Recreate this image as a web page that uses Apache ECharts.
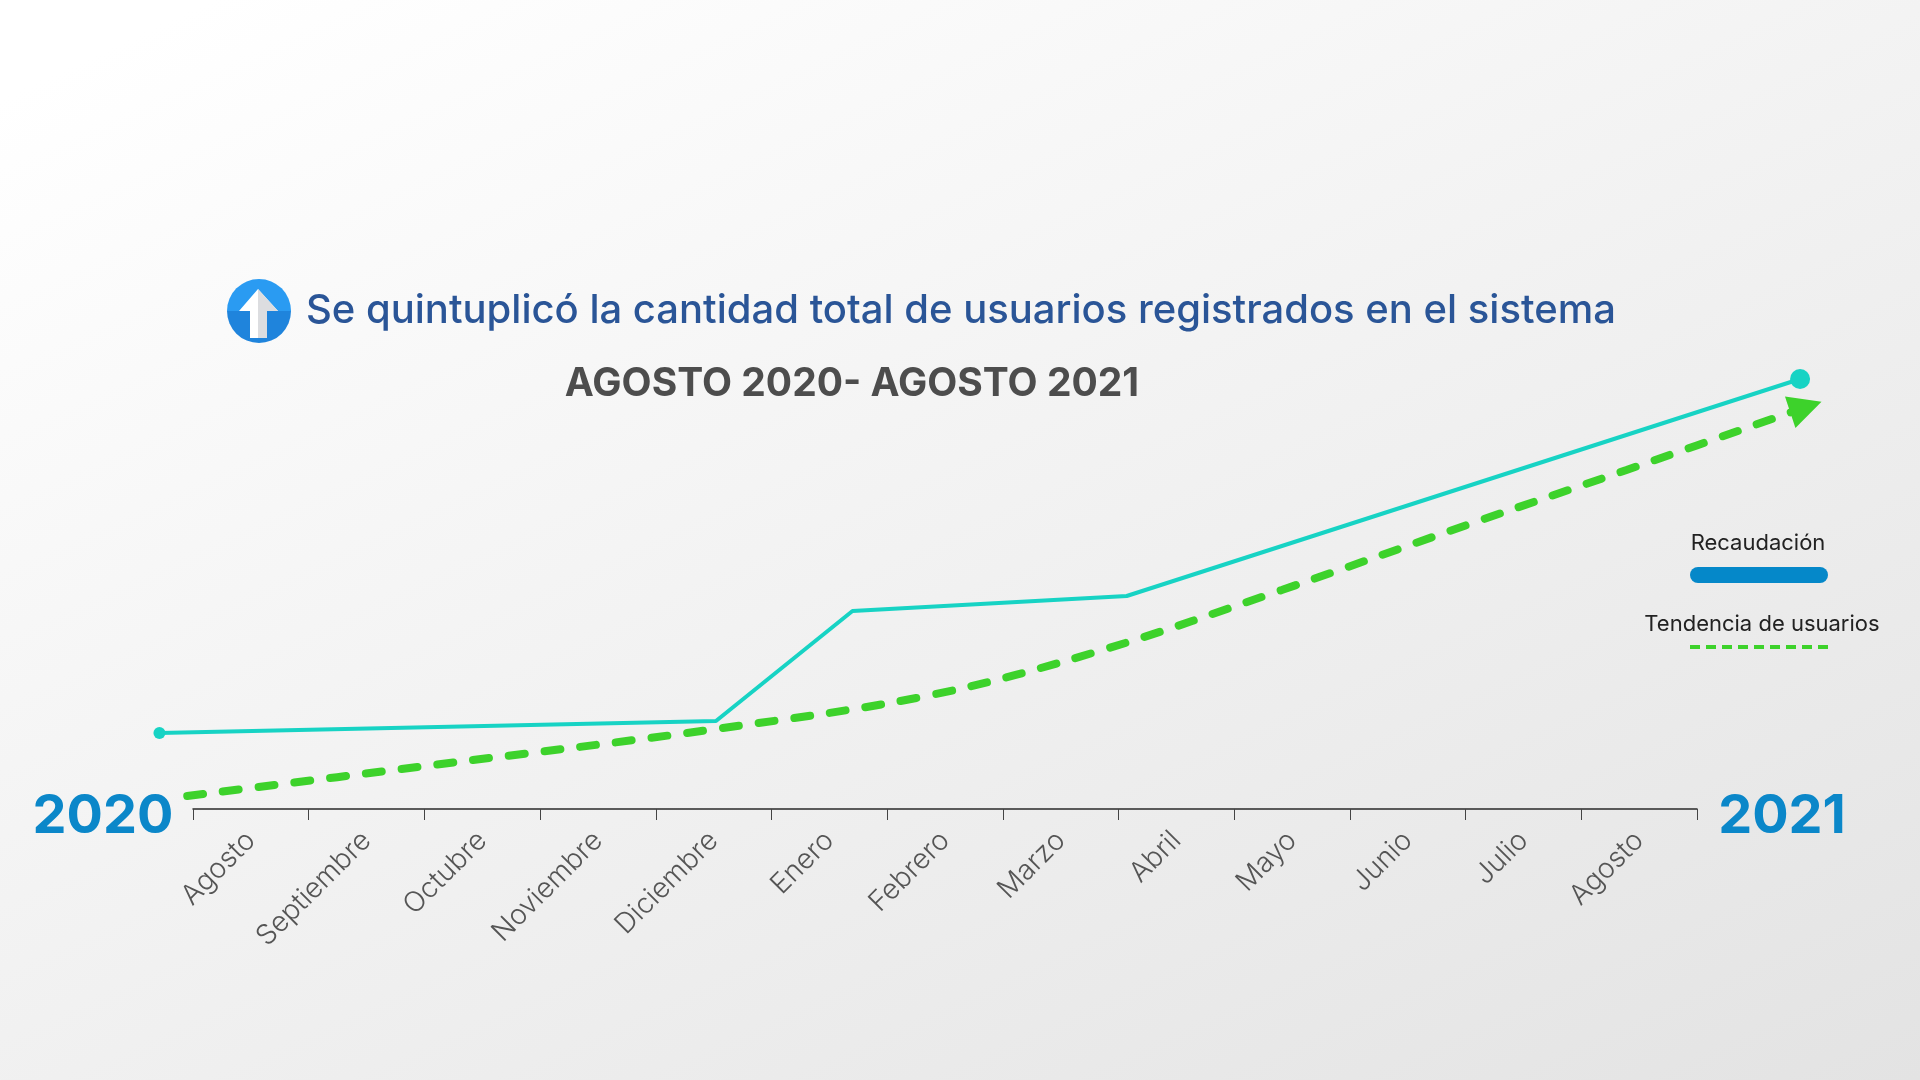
<!DOCTYPE html>
<html lang="es">
  <head>
    <meta charset="UTF-8" />
    <title>Usuarios registrados</title>
    <script src="https://cdn.jsdelivr.net/npm/echarts@6/dist/echarts.min.js"></script>
    <style>
      html, body {
        margin: 0;
        padding: 0;
      }
      body {
        background: linear-gradient(155deg, #ffffff 5%, #e3e3e3 100%);
      }
      #main {
        width: 1920px;
        height: 1080px;
      }
    </style>
  </head>
  <body>
    <div id="main"></div>
    <script>
      // meses del eje (agosto 2020 - agosto 2021)
      const months = ["Agosto", "Septiembre", "Octubre", "Noviembre", "Diciembre", "Enero",
        "Febrero", "Marzo", "Abril", "Mayo", "Junio", "Julio", "Agosto"];

      // posicion en meses (0 = inicio de agosto 2020) y valor relativo 0-100
      const recaudacionX = [-0.29, 4.52, 5.7, 8.07, 13.89];
      const recaudacion = [15.2, 17.6, 39.6, 42.6, 86.0];

      const tendenciaX = [-0.05, 2.08, 4.52, 6.38, 7.86, 9.41, 11.06, 12.39, 13.94];
      const tendencia = [2.6, 8.8, 16.0, 22.8, 31.8, 43.8, 57.2, 67.8, 80.4];

      const cyan = "#17d3c4";
      const green = "#3dd22b";
      const font = "Inter, 'Noto Sans', sans-serif";

      function pairs(xs, ys) {
        return xs.map((x, i) => [x, ys[i]]);
      }

      const trendData = pairs(tendenciaX, tendencia).map((p, i, arr) => {
        if (i === arr.length - 1) {
          return { value: p, symbol: "triangle", symbolSize: [33, 33], symbolRotate: -71.5 };
        }
        return { value: p };
      });

      const myChart = echarts.init(document.getElementById("main"), null, { renderer: "canvas" });

      const option = {
        backgroundColor: "transparent",
        animation: false,
        grid: [
          { left: 193, right: 223, top: 309, bottom: 271 },
          { left: 135.15, right: 49.35, top: 309, bottom: 271 },
        ],
        xAxis: [
          {
            type: "category",
            gridIndex: 0,
            data: months,
            boundaryGap: true,
            axisLine: { show: true, lineStyle: { color: "#2a2a2a", width: 1.5 } },
            axisTick: { show: true, interval: 0, length: 11, lineStyle: { color: "#444", width: 1 } },
            axisLabel: {
              interval: 0,
              rotate: 45,
              margin: 27,
              color: "#555",
              fontSize: 28,
              fontWeight: 300,
              fontFamily: font,
            },
          },
          { type: "value", gridIndex: 1, min: -0.5, max: 14.5, show: false },
        ],
        yAxis: [
          { type: "value", gridIndex: 0, min: 0, max: 100, show: false },
          { type: "value", gridIndex: 1, min: 0, max: 100, show: false },
        ],
        series: [
          {
            name: "Tendencia de usuarios",
            type: "line",
            xAxisIndex: 1,
            yAxisIndex: 1,
            clip: false,
            smooth: 0.35,
            symbol: "circle",
            symbolSize: 0,
            showSymbol: true,
            itemStyle: { color: green },
            lineStyle: { color: green, width: 8, type: [16, 20], cap: "round" },
            data: trendData,
            z: 3,
          },
          {
            name: "Recaudación",
            type: "line",
            xAxisIndex: 1,
            yAxisIndex: 1,
            clip: false,
            symbol: "circle",
            showSymbol: true,
            symbolSize: (val, params) =>
              params.dataIndex === 0 ? 12 : params.dataIndex === recaudacion.length - 1 ? 20 : 0,
            itemStyle: { color: cyan },
            lineStyle: { color: cyan, width: 4 },
            data: pairs(recaudacionX, recaudacion),
            z: 4,
          },
        ],
        graphic: [
          // icono flecha
          {
            type: "circle",
            shape: { cx: 259, cy: 311, r: 32 },
            style: {
              fill: {
                type: "linear", x: 0, y: 0, x2: 0, y2: 1,
                colorStops: [
                  { offset: 0, color: "#2a9bf2" },
                  { offset: 0.5, color: "#2a9bf2" },
                  { offset: 0.5, color: "#1f84dc" },
                  { offset: 1, color: "#1f84dc" },
                ],
              },
            },
          },
          {
            type: "polygon",
            shape: { points: [[258, 289], [278, 311], [267, 311], [267, 338], [250, 338], [250, 311], [239, 311]] },
            style: { fill: "#ffffff" },
          },
          {
            type: "polygon",
            shape: { points: [[258, 289], [278, 311], [267, 311], [267, 338], [258, 338]] },
            style: { fill: "#dcdde0" },
          },
          {
            type: "text",
            x: 306,
            y: 311,
            style: {
              text: "Se quintuplicó la cantidad total de usuarios registrados en el sistema",
              fill: "#2a5597",
              font: "500 40px " + font,
              verticalAlign: "middle",
            },
          },
          {
            type: "text",
            x: 852,
            y: 384,
            style: {
              text: "AGOSTO 2020- AGOSTO 2021",
              fill: "#4d4d4d",
              font: "bold 39px " + font,
              align: "center",
              verticalAlign: "middle",
            },
          },
          {
            type: "text",
            x: 103,
            y: 817,
            style: {
              text: "2020",
              fill: "#0b87c9",
              font: "bold 54px " + font,
              align: "center",
              verticalAlign: "middle",
            },
          },
          {
            type: "text",
            x: 1782,
            y: 817,
            style: {
              text: "2021",
              fill: "#0b87c9",
              font: "bold 54px " + font,
              align: "center",
              verticalAlign: "middle",
            },
          },
          // leyenda
          {
            type: "text",
            x: 1758,
            y: 543,
            style: {
              text: "Recaudación",
              fill: "#222",
              font: "22px " + font,
              align: "center",
              verticalAlign: "middle",
            },
          },
          {
            type: "rect",
            shape: { x: 1690, y: 567, width: 138, height: 16, r: 8 },
            style: { fill: "#0588c9" },
          },
          {
            type: "text",
            x: 1762,
            y: 624,
            style: {
              text: "Tendencia de usuarios",
              fill: "#222",
              font: "22px " + font,
              align: "center",
              verticalAlign: "middle",
            },
          },
          {
            type: "line",
            shape: { x1: 1690, y1: 647, x2: 1830, y2: 647 },
            style: { stroke: green, lineWidth: 4, lineDash: [10, 6] },
          },
        ],
      };

      myChart.setOption(option);
    </script>
  </body>
</html>
